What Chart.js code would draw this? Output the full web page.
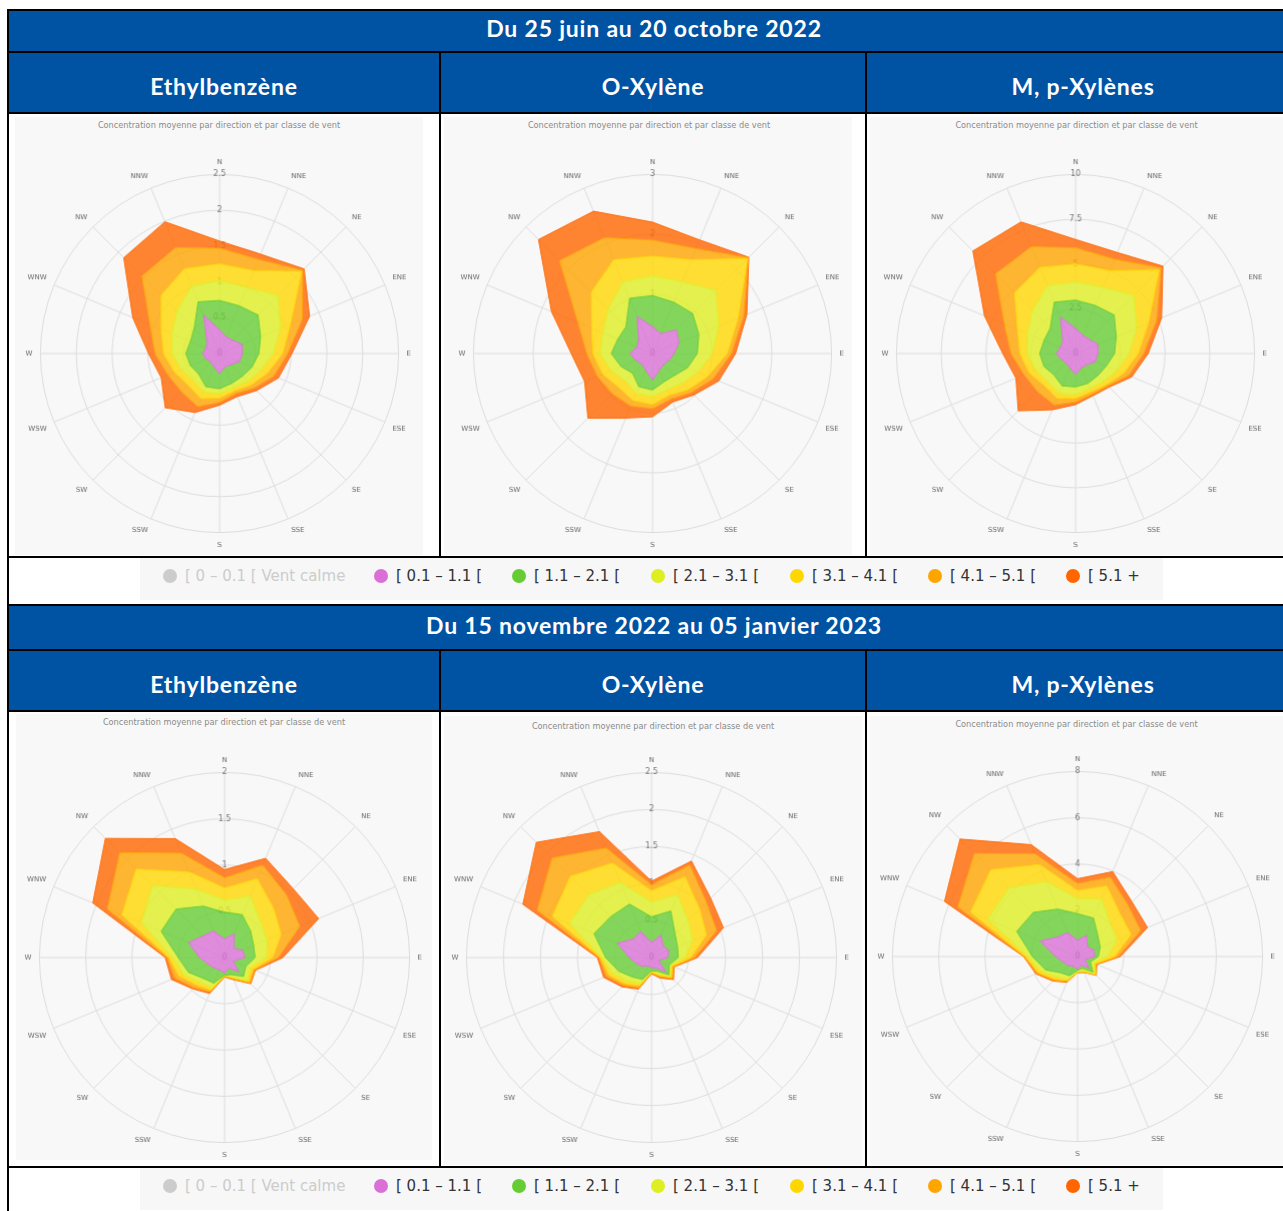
<!DOCTYPE html>
<html lang="fr">
<head>
<meta charset="utf-8">
<title>Roses de pollution BTEX</title>
<script src="https://cdn.jsdelivr.net/npm/chart.js@4.4.1/dist/chart.umd.min.js"></script>
<style>
body { margin: 0; background: #fff; width: 1283px; height: 1211px; overflow: hidden; position: relative; font-family: Lato, sans-serif; }
.blue { position: absolute; box-sizing: border-box; background: #0052a3; color: #fff; font-weight: bold; display: flex; align-items: center; justify-content: center; font-size: 23px; letter-spacing: 0.8px; }
.period { padding-bottom: 6px; }
.species { padding-top: 7px; }
.line { position: absolute; background: #000; }
.panel { position: absolute; background: #f8f8f8; }
.panel-title { position: absolute; font: 8.2px "DejaVu Sans", sans-serif; color: #8a8a8a; white-space: nowrap; transform: translateX(-50%); }
.rose { position: absolute; }
.legend-box { position: absolute; background: #f7f7f7; }
.legend-item { position: absolute; font: 15px "DejaVu Sans", sans-serif; color: #333; white-space: nowrap; display: flex; align-items: center; }
.dot { width: 14px; height: 14px; border-radius: 50%; margin-right: 8px; }
</style>
</head>
<body>
<script>
// ---- data ----
const directions = ['N', 'NNE', 'NE', 'ENE', 'E', 'ESE', 'SE', 'SSE', 'S', 'SSW', 'SW', 'WSW', 'W', 'WNW', 'NW', 'NNW']
const windClasses = ['[ 0.1 – 1.1 [', '[ 1.1 – 2.1 [', '[ 2.1 – 3.1 [', '[ 3.1 – 4.1 [', '[ 4.1 – 5.1 [', '[ 5.1 +']
const calmClass = '[ 0 – 0.1 [ Vent calme'
const periods = ['Du 25 juin au 20 octobre 2022', 'Du 15 novembre 2022 au 05 janvier 2023']
const species = ['Ethylbenzène', 'O-Xylène', 'M, p-Xylènes']
const chartTitle = 'Concentration moyenne par direction et par classe de vent'
const axisMax = [2.5, 3, 10, 2, 2.5, 8]
const axisStep = [0.5, 1, 2.5, 0.5, 0.5, 2]

// cumulated concentration at the outer edge of each wind class (stacked areas)
// Ethylbenzène, juin-octobre
const eb1Class1 = [0.33, 0.25, 0.26, 0.34, 0.32, 0.30, 0.22, 0.20, 0.28, 0.20, 0.17, 0.20, 0.24, 0.20, 0.25, 0.58]
const eb1Class2 = [0.74, 0.72, 0.76, 0.62, 0.55, 0.49, 0.45, 0.45, 0.49, 0.50, 0.41, 0.44, 0.47, 0.44, 0.50, 0.78]
const eb1Class3 = [1.02, 1.00, 1.15, 0.92, 0.75, 0.62, 0.55, 0.52, 0.56, 0.58, 0.52, 0.58, 0.66, 0.72, 0.84, 1.02]
const eb1Class4 = [1.25, 1.25, 1.62, 1.07, 0.88, 0.72, 0.62, 0.56, 0.62, 0.68, 0.62, 0.68, 0.78, 0.88, 1.15, 1.28]
const eb1Class5 = [1.47, 1.42, 1.64, 1.25, 0.95, 0.82, 0.68, 0.60, 0.68, 0.80, 0.75, 0.78, 0.90, 1.05, 1.53, 1.60]
const eb1Class6 = [1.57, 1.50, 1.67, 1.36, 1.01, 0.89, 0.73, 0.65, 0.72, 0.89, 1.07, 0.88, 0.99, 1.31, 1.89, 1.99]
// O-Xylène, juin-octobre
const ox1Class1 = [0.45, 0.36, 0.56, 0.48, 0.36, 0.30, 0.26, 0.30, 0.44, 0.30, 0.25, 0.30, 0.38, 0.28, 0.33, 0.67]
const ox1Class2 = [0.97, 0.93, 0.95, 0.84, 0.75, 0.63, 0.52, 0.51, 0.61, 0.60, 0.47, 0.57, 0.69, 0.63, 0.63, 1.00]
const ox1Class3 = [1.30, 1.30, 1.50, 1.20, 1.00, 0.82, 0.70, 0.65, 0.72, 0.72, 0.65, 0.75, 0.88, 0.90, 1.05, 1.30]
const ox1Class4 = [1.63, 1.70, 2.25, 1.55, 1.25, 1.00, 0.85, 0.75, 0.85, 0.85, 0.80, 0.90, 1.00, 1.10, 1.45, 1.70]
const ox1Class5 = [1.90, 1.90, 2.27, 1.65, 1.32, 1.10, 0.92, 0.82, 0.92, 0.95, 0.95, 1.00, 1.10, 1.35, 2.20, 2.10]
const ox1Class6 = [2.20, 2.06, 2.28, 1.71, 1.39, 1.20, 0.98, 0.88, 1.06, 1.17, 1.53, 1.23, 1.36, 1.83, 2.70, 2.58]
// M, p-Xylènes, juin-octobre
const mp1Class1 = [1.40, 1.10, 1.10, 1.35, 1.25, 1.20, 0.90, 0.85, 1.17, 0.85, 0.75, 0.85, 1.08, 0.90, 1.00, 2.20]
const mp1Class2 = [2.98, 2.90, 3.05, 2.46, 2.18, 1.85, 1.75, 1.80, 1.86, 1.95, 1.70, 1.90, 2.00, 1.90, 2.00, 3.10]
const mp1Class3 = [4.00, 4.00, 4.60, 3.70, 3.00, 2.50, 2.20, 2.10, 2.30, 2.40, 2.20, 2.40, 2.70, 2.90, 3.40, 4.10]
const mp1Class4 = [5.00, 5.00, 6.60, 4.40, 3.50, 2.90, 2.45, 2.30, 2.50, 2.70, 2.50, 2.80, 3.10, 3.50, 4.80, 5.20]
const mp1Class5 = [5.90, 5.70, 6.75, 4.90, 3.80, 3.20, 2.55, 2.45, 2.70, 3.10, 3.00, 3.10, 3.60, 4.30, 6.30, 6.45]
const mp1Class6 = [6.37, 6.10, 6.90, 5.20, 4.05, 3.40, 2.65, 2.55, 2.85, 3.40, 4.52, 3.60, 4.06, 5.50, 8.10, 7.95]
// Ethylbenzène, novembre-janvier
const eb2Class1 = [0.20, 0.28, 0.14, 0.21, 0.22, 0.10, 0.22, 0.12, 0.17, 0.14, 0.16, 0.19, 0.27, 0.42, 0.33, 0.31]
const eb2Class2 = [0.49, 0.50, 0.40, 0.34, 0.33, 0.25, 0.29, 0.20, 0.19, 0.30, 0.32, 0.42, 0.50, 0.74, 0.74, 0.60]
const eb2Class3 = [0.62, 0.72, 0.55, 0.50, 0.45, 0.30, 0.35, 0.23, 0.19, 0.35, 0.38, 0.48, 0.56, 0.97, 1.10, 0.80]
const eb2Class4 = [0.75, 0.92, 0.75, 0.66, 0.52, 0.33, 0.37, 0.24, 0.20, 0.38, 0.42, 0.53, 0.60, 1.20, 1.35, 1.00]
const eb2Class5 = [0.86, 1.08, 0.95, 0.88, 0.58, 0.35, 0.39, 0.25, 0.20, 0.40, 0.46, 0.58, 0.62, 1.37, 1.60, 1.22]
const eb2Class6 = [0.95, 1.16, 1.05, 1.10, 0.63, 0.36, 0.40, 0.26, 0.21, 0.42, 0.48, 0.62, 0.64, 1.54, 1.82, 1.39]
// O-Xylène, novembre-janvier
const ox2Class1 = [0.20, 0.33, 0.22, 0.25, 0.22, 0.10, 0.28, 0.15, 0.14, 0.12, 0.17, 0.22, 0.30, 0.50, 0.35, 0.38]
const ox2Class2 = [0.55, 0.68, 0.45, 0.38, 0.36, 0.26, 0.33, 0.20, 0.18, 0.32, 0.37, 0.48, 0.62, 0.84, 0.78, 0.78]
const ox2Class3 = [0.75, 0.92, 0.70, 0.60, 0.45, 0.28, 0.36, 0.24, 0.19, 0.38, 0.45, 0.57, 0.67, 1.20, 1.20, 1.10]
const ox2Class4 = [0.90, 1.18, 0.92, 0.80, 0.53, 0.30, 0.38, 0.26, 0.20, 0.41, 0.50, 0.62, 0.69, 1.45, 1.55, 1.38]
const ox2Class5 = [0.98, 1.35, 1.05, 0.95, 0.58, 0.32, 0.40, 0.28, 0.21, 0.44, 0.53, 0.66, 0.71, 1.67, 1.90, 1.60]
const ox2Class6 = [1.03, 1.41, 1.13, 1.05, 0.62, 0.33, 0.42, 0.30, 0.22, 0.46, 0.56, 0.70, 0.73, 1.88, 2.20, 1.84]
// M, p-Xylènes, novembre-janvier
const mp2Class1 = [0.70, 1.00, 0.60, 0.75, 0.75, 0.35, 0.70, 0.40, 0.55, 0.45, 0.55, 0.65, 0.95, 1.75, 1.20, 1.12]
const mp2Class2 = [1.85, 1.80, 1.25, 1.06, 0.90, 0.60, 0.95, 0.55, 0.60, 0.90, 1.00, 1.50, 1.95, 2.84, 2.70, 2.22]
const mp2Class3 = [2.50, 2.70, 2.00, 1.85, 1.30, 0.75, 1.05, 0.65, 0.65, 1.05, 1.25, 1.70, 2.15, 4.20, 4.20, 3.50]
const mp2Class4 = [2.85, 3.30, 2.60, 2.50, 1.60, 0.82, 1.10, 0.70, 0.68, 1.12, 1.38, 1.82, 2.25, 5.00, 5.30, 4.30]
const mp2Class5 = [3.15, 3.70, 3.10, 2.95, 1.75, 0.87, 1.13, 0.73, 0.69, 1.16, 1.45, 1.90, 2.30, 5.60, 6.30, 4.80]
const mp2Class6 = [3.36, 3.97, 3.33, 3.27, 1.85, 0.90, 1.15, 0.75, 0.70, 1.20, 1.50, 1.95, 2.33, 6.22, 7.18, 5.23]

// ---- styling / layout ----
const classColors = ['#da70d6', '#66cc33', '#ddee22', '#ffd700', '#ffa500', '#ff6600']
const calmColor = '#cccccc'
const labelFont = '"DejaVu Sans", sans-serif'

const roseSeries = [
    [eb1Class1, eb1Class2, eb1Class3, eb1Class4, eb1Class5, eb1Class6],
    [ox1Class1, ox1Class2, ox1Class3, ox1Class4, ox1Class5, ox1Class6],
    [mp1Class1, mp1Class2, mp1Class3, mp1Class4, mp1Class5, mp1Class6],
    [eb2Class1, eb2Class2, eb2Class3, eb2Class4, eb2Class5, eb2Class6],
    [ox2Class1, ox2Class2, ox2Class3, ox2Class4, ox2Class5, ox2Class6],
    [mp2Class1, mp2Class2, mp2Class3, mp2Class4, mp2Class5, mp2Class6],
]
// pole position and outer ring radius of every rose, in page pixels
const roseCenters = [[219, 353], [652, 353], [1075, 353], [224, 957], [651, 957], [1077, 956]]
const roseRadius = [179, 179, 179, 185, 185, 185]
// grey image panels behind the roses [x, y, w, h] and the y of their small title
const panels = [[15, 117, 408, 438], [444, 117, 408, 438], [870, 117, 413, 438],
                [16, 714, 416, 446], [444, 716, 418, 449], [870, 716, 413, 449]]
const panelTitleY = [120, 120, 120, 717, 721, 719]
const legendDotX = [163, 374, 512, 651, 790, 928, 1066]

// "0" in the middle: chart.js skips the first tick of a radial axis
const zeroLabelPlugin = {
    id: 'zeroLabel',
    beforeDatasetsDraw(chart) {
        const scale = chart.scales.r
        const ctx = chart.ctx
        ctx.save()
        ctx.font = '8px ' + labelFont
        ctx.fillStyle = '#777'
        ctx.textAlign = 'center'
        ctx.textBaseline = 'middle'
        ctx.fillText('0', scale.xCenter, scale.yCenter)
        ctx.restore()
    }
}

class WindRoseChart {
    constructor(parentElement, center, radius, max, step, series) {
        this.parentElement = parentElement
        this.center = center // where the pole has to land
        this.radius = radius // wanted radius of the outer ring
        this.size = 2 * (radius + 20)
        this.initRoot()
        this.initChartJSCanvas(max, step, series)
        this.fitRadius()
    }

    initRoot() {
        this.root = document.createElement('div')
        this.root.classList.add('rose')
        this.canvas = document.createElement('canvas')
        this.canvas.width = this.size
        this.canvas.height = this.size
        this.root.appendChild(this.canvas)
        this.parentElement.appendChild(this.root)
    }

    initChartJSCanvas(max, step, series) {
        const datasets = series.map((values, i) => ({
            label: windClasses[i],
            data: values,
            borderColor: classColors[i],
            backgroundColor: classColors[i] + 'cc',
            borderWidth: 1,
            pointRadius: 0,
            tension: 0,
            fill: i === 0 ? 'origin' : '-1'
        }))
        this.chart = new Chart(this.canvas.getContext('2d'), {
            type: 'radar',
            data: { labels: directions, datasets: datasets },
            plugins: [zeroLabelPlugin],
            options: {
                responsive: false,
                animation: false,
                events: [],
                plugins: {
                    legend: { display: false },
                    tooltip: { enabled: false }
                },
                scales: {
                    r: {
                        min: 0,
                        max: max,
                        ticks: {
                            stepSize: step,
                            color: '#777',
                            showLabelBackdrop: false,
                            font: { size: 8, family: labelFont },
                            callback: v => String(v)
                        },
                        grid: { circular: true, color: '#dcdcdc' },
                        angleLines: { color: '#dcdcdc' },
                        pointLabels: {
                            color: '#666',
                            padding: 2,
                            font: { size: 7, family: labelFont }
                        }
                    }
                }
            }
        })
    }

    fitRadius() {
        // grow the canvas until the outer ring has the wanted radius, then move the pole in place
        for (let k = 0; k < 2; k++) {
            const scale = this.chart.scales.r
            this.size += 2 * (this.radius - scale.drawingArea)
            this.chart.resize(this.size, this.size)
        }
        const scale = this.chart.scales.r
        this.root.style.left = (this.center[0] - scale.xCenter) + 'px'
        this.root.style.top = (this.center[1] - scale.yCenter) + 'px'
    }
}

function addBox(cls, x, y, w, h, text) {
    const el = document.createElement('div')
    el.className = cls
    el.style.left = x + 'px'
    el.style.top = y + 'px'
    el.style.width = w + 'px'
    el.style.height = h + 'px'
    if (text) el.textContent = text
    document.body.appendChild(el)
    return el
}

function addLegend(y) {
    addBox('legend-box', 140, y - 19, 1023, 42)
    const names = [calmClass].concat(windClasses)
    const colors = [calmColor].concat(classColors)
    names.forEach((name, i) => {
        const item = addBox('legend-item', legendDotX[i], y - 10, 220, 20)
        item.style.height = 'auto'
        item.style.width = 'auto'
        item.innerHTML = '<span class="dot"></span><span></span>'
        item.firstChild.style.background = colors[i]
        item.lastChild.textContent = name
        if (i === 0) item.style.color = calmColor
    })
}

// ---- table blocks ----
const blockTops = [10, 605]
const titleHeights = [42, 45]
const chartRows = [[113, 557], [711, 1167]]
const colEdges = [8, 440, 866, 1300]

blockTops.forEach((top, b) => {
    const headTop = top + titleHeights[b]
    addBox('blue period', 8, top, 1292, titleHeights[b], periods[b])
    for (let c = 0; c < 3; c++) {
        addBox('blue species', colEdges[c], headTop, colEdges[c + 1] - colEdges[c], chartRows[b][0] - headTop, species[c])
    }
    // grid lines of the table
    const rowLines = [top, headTop, chartRows[b][0], chartRows[b][1]]
    rowLines.forEach(y => addBox('line', 7, y - 1, 1300, 2))
    for (let c = 1; c < 3; c++) {
        addBox('line', colEdges[c] - 1, headTop, 2, chartRows[b][1] - headTop)
    }
})
addBox('line', 7, 9, 2, 1210)
addBox('line', 7, 604, 1300, 2)

panels.forEach((p, i) => {
    addBox('panel', p[0], p[1], p[2], p[3])
    const t = addBox('panel-title', p[0] + p[2] / 2 + (i === 1 ? 1 : 0), panelTitleY[i], 0, 10, chartTitle)
    t.style.width = 'auto'
})

addLegend(577)
addLegend(1187)

for (let i = 0; i < 6; i++) {
    new WindRoseChart(document.body, roseCenters[i], roseRadius[i], axisMax[i], axisStep[i], roseSeries[i])
}
</script>
</body>
</html>
